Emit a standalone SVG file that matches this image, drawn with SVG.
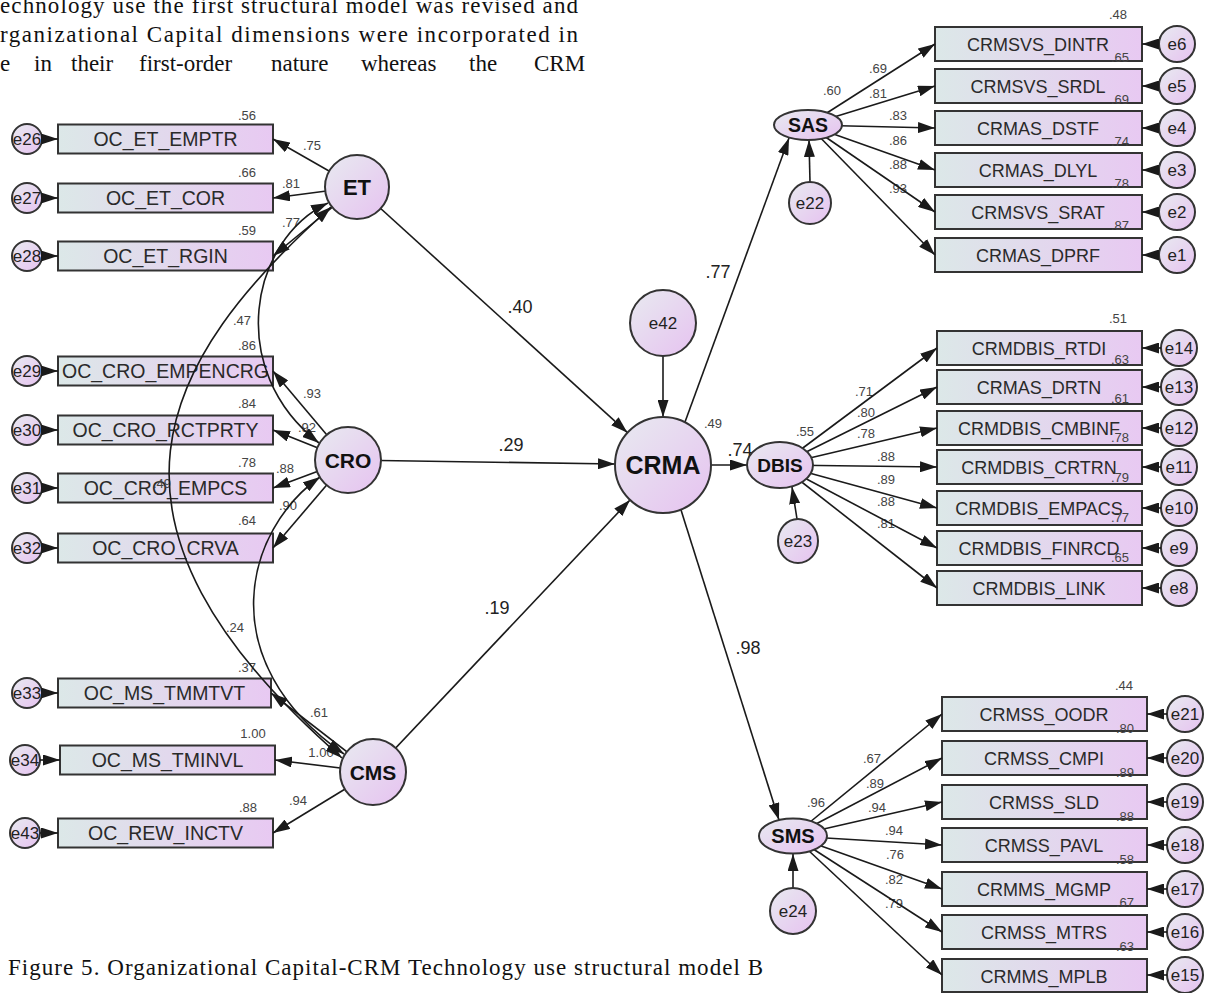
<svg xmlns="http://www.w3.org/2000/svg" width="1205" height="993" viewBox="0 0 1205 993">
<defs>
<linearGradient id="gBox" x1="0" y1="0" x2="1" y2="0"><stop offset="0" stop-color="#dce8e8"/><stop offset="1" stop-color="#e8c9f2"/></linearGradient>
<linearGradient id="gCirc" x1="0" y1="0" x2="1" y2="1"><stop offset="0" stop-color="#e8eaf0"/><stop offset="1" stop-color="#e6c2f0"/></linearGradient>
<marker id="ah" viewBox="0 0 17 11" refX="17" refY="5.5" markerWidth="17" markerHeight="11" markerUnits="userSpaceOnUse" orient="auto-start-reverse"><path d="M0,0 L17,5.5 L0,11 z" fill="#1a1a1a"/></marker>
<style>
.bx{fill:url(#gBox);stroke:#333;stroke-width:2}
.ci{fill:url(#gCirc);stroke:#333;stroke-width:2}
.bt{font-family:"Liberation Sans",Arial,sans-serif;font-size:19.5px;fill:#2a2a2a;text-anchor:middle}
.rt{font-family:"Liberation Sans",Arial,sans-serif;font-size:18px;fill:#2a2a2a;text-anchor:middle}
.et{font-family:"Liberation Sans",Arial,sans-serif;font-size:17px;fill:#222;text-anchor:middle}
.lt{font-family:"Liberation Sans",Arial,sans-serif;font-weight:bold;fill:#111;text-anchor:middle}
.sm{font-family:"Liberation Sans",Arial,sans-serif;font-size:13px;fill:#444;text-anchor:middle}
.bg{font-family:"Liberation Sans",Arial,sans-serif;font-size:18px;fill:#222;text-anchor:middle}
.ln{fill:none;stroke:#1a1a1a;stroke-width:1.6;marker-end:url(#ah)}
.dl{fill:none;stroke:#1a1a1a;stroke-width:1.6;marker-start:url(#ah);marker-end:url(#ah)}
.doc{font-family:"Liberation Serif","Times New Roman",serif;font-size:23px;fill:#111}
</style>
</defs>
<rect width="1205" height="993" fill="#ffffff"/>

<g id="page-text">
<text class="doc" x="0" y="13" textLength="578" lengthAdjust="spacing">echnology use the first structural model was revised and</text>
<text class="doc" x="0" y="42" textLength="578" lengthAdjust="spacing">rganizational Capital dimensions were incorporated in</text>
<text class="doc" y="71"><tspan x="0">e</tspan><tspan x="34">in</tspan><tspan x="71">their</tspan><tspan x="139">first-order</tspan><tspan x="271">nature</tspan><tspan x="361">whereas</tspan><tspan x="469">the</tspan><tspan x="534">CRM</tspan></text>
<text class="doc" x="8" y="975" font-size="24" textLength="755" lengthAdjust="spacing">Figure 5. Organizational Capital-CRM Technology use structural model B</text>
</g>

<!-- left indicators -->
<g id="OC_ET_EMPTR"><rect class="bx" x="58" y="124.5" width="215" height="29"/><text class="bt" x="165.5" y="146">OC_ET_EMPTR</text></g>
<g id="OC_ET_COR"><rect class="bx" x="58" y="183.5" width="215" height="29"/><text class="bt" x="165.5" y="205">OC_ET_COR</text></g>
<g id="OC_ET_RGIN"><rect class="bx" x="58" y="241.5" width="215" height="29"/><text class="bt" x="165.5" y="263">OC_ET_RGIN</text></g>
<g id="OC_CRO_EMPENCRG"><rect class="bx" x="58" y="356.5" width="215" height="29"/><text class="bt" x="165.5" y="378">OC_CRO_EMPENCRG</text></g>
<g id="OC_CRO_RCTPRTY"><rect class="bx" x="58" y="415.5" width="215" height="29"/><text class="bt" x="165.5" y="437">OC_CRO_RCTPRTY</text></g>
<g id="OC_CRO_EMPCS"><rect class="bx" x="58" y="473.5" width="215" height="29"/><text class="bt" x="165.5" y="495">OC_CRO_EMPCS</text></g>
<g id="OC_CRO_CRVA"><rect class="bx" x="58" y="533.5" width="215" height="29"/><text class="bt" x="165.5" y="555">OC_CRO_CRVA</text></g>
<g id="OC_MS_TMMTVT"><rect class="bx" x="58" y="678.5" width="213" height="29"/><text class="bt" x="164.5" y="700">OC_MS_TMMTVT</text></g>
<g id="OC_MS_TMINVL"><rect class="bx" x="60" y="745.5" width="215" height="29"/><text class="bt" x="167.5" y="767">OC_MS_TMINVL</text></g>
<g id="OC_REW_INCTV"><rect class="bx" x="58" y="818.5" width="215" height="29"/><text class="bt" x="165.5" y="840">OC_REW_INCTV</text></g>

<g id="e26"><circle class="ci" cx="27" cy="139" r="15"/><text class="et" x="27" y="145">e26</text></g>
<g id="e27"><circle class="ci" cx="27" cy="198" r="15"/><text class="et" x="27" y="204">e27</text></g>
<g id="e28"><circle class="ci" cx="27" cy="256" r="15"/><text class="et" x="27" y="262">e28</text></g>
<g id="e29"><circle class="ci" cx="27" cy="371" r="15"/><text class="et" x="27" y="377">e29</text></g>
<g id="e30"><circle class="ci" cx="27" cy="430" r="15"/><text class="et" x="27" y="436">e30</text></g>
<g id="e31"><circle class="ci" cx="27" cy="488" r="15"/><text class="et" x="27" y="494">e31</text></g>
<g id="e32"><circle class="ci" cx="27" cy="548" r="15"/><text class="et" x="27" y="554">e32</text></g>
<g id="e33"><circle class="ci" cx="27" cy="693" r="15"/><text class="et" x="27" y="699">e33</text></g>
<g id="e34"><circle class="ci" cx="25" cy="760" r="15"/><text class="et" x="25" y="766">e34</text></g>
<g id="e43"><circle class="ci" cx="25" cy="833" r="15"/><text class="et" x="25" y="839">e43</text></g>

<!-- right indicators SAS -->
<g id="CRMSVS_DINTR"><rect class="bx" x="935" y="27" width="207" height="34"/><text class="rt" x="1038" y="50.5">CRMSVS_DINTR</text></g>
<g id="CRMSVS_SRDL"><rect class="bx" x="935" y="69" width="207" height="34"/><text class="rt" x="1038" y="92.5">CRMSVS_SRDL</text></g>
<g id="CRMAS_DSTF"><rect class="bx" x="935" y="111" width="207" height="34"/><text class="rt" x="1038" y="134.5">CRMAS_DSTF</text></g>
<g id="CRMAS_DLYL"><rect class="bx" x="935" y="153" width="207" height="34"/><text class="rt" x="1038" y="176.5">CRMAS_DLYL</text></g>
<g id="CRMSVS_SRAT"><rect class="bx" x="935" y="195" width="207" height="34"/><text class="rt" x="1038" y="218.5">CRMSVS_SRAT</text></g>
<g id="CRMAS_DPRF"><rect class="bx" x="935" y="238" width="207" height="34"/><text class="rt" x="1038" y="261.5">CRMAS_DPRF</text></g>
<g id="e6"><circle class="ci" cx="1177" cy="44" r="18"/><text class="et" x="1177" y="50">e6</text></g>
<g id="e5"><circle class="ci" cx="1177" cy="86" r="18"/><text class="et" x="1177" y="92">e5</text></g>
<g id="e4"><circle class="ci" cx="1177" cy="128" r="18"/><text class="et" x="1177" y="134">e4</text></g>
<g id="e3"><circle class="ci" cx="1177" cy="170" r="18"/><text class="et" x="1177" y="176">e3</text></g>
<g id="e2"><circle class="ci" cx="1177" cy="212" r="18"/><text class="et" x="1177" y="218">e2</text></g>
<g id="e1"><circle class="ci" cx="1177" cy="255" r="18"/><text class="et" x="1177" y="261">e1</text></g>

<!-- right indicators DBIS -->
<g id="CRMDBIS_RTDI"><rect class="bx" x="937" y="331" width="205" height="34"/><text class="rt" x="1039" y="354.5">CRMDBIS_RTDI</text></g>
<g id="CRMAS_DRTN"><rect class="bx" x="937" y="370" width="205" height="34"/><text class="rt" x="1039" y="393.5">CRMAS_DRTN</text></g>
<g id="CRMDBIS_CMBINF"><rect class="bx" x="937" y="411" width="205" height="34"/><text class="rt" x="1039" y="434.5">CRMDBIS_CMBINF</text></g>
<g id="CRMDBIS_CRTRN"><rect class="bx" x="937" y="450" width="205" height="34"/><text class="rt" x="1039" y="473.5">CRMDBIS_CRTRN</text></g>
<g id="CRMDBIS_EMPACS"><rect class="bx" x="937" y="491" width="205" height="34"/><text class="rt" x="1039" y="514.5">CRMDBIS_EMPACS</text></g>
<g id="CRMDBIS_FINRCD"><rect class="bx" x="937" y="531" width="205" height="34"/><text class="rt" x="1039" y="554.5">CRMDBIS_FINRCD</text></g>
<g id="CRMDBIS_LINK"><rect class="bx" x="937" y="571" width="205" height="34"/><text class="rt" x="1039" y="594.5">CRMDBIS_LINK</text></g>
<g id="e14"><circle class="ci" cx="1179" cy="348" r="18"/><text class="et" x="1179" y="354">e14</text></g>
<g id="e13"><circle class="ci" cx="1179" cy="387" r="18"/><text class="et" x="1179" y="393">e13</text></g>
<g id="e12"><circle class="ci" cx="1179" cy="428" r="18"/><text class="et" x="1179" y="434">e12</text></g>
<g id="e11"><circle class="ci" cx="1179" cy="467" r="18"/><text class="et" x="1179" y="473">e11</text></g>
<g id="e10"><circle class="ci" cx="1179" cy="508" r="18"/><text class="et" x="1179" y="514">e10</text></g>
<g id="e9"><circle class="ci" cx="1179" cy="548" r="18"/><text class="et" x="1179" y="554">e9</text></g>
<g id="e8"><circle class="ci" cx="1179" cy="588" r="18"/><text class="et" x="1179" y="594">e8</text></g>

<!-- right indicators SMS -->
<g id="CRMSS_OODR"><rect class="bx" x="942" y="697" width="205" height="34"/><text class="rt" x="1044" y="720.5">CRMSS_OODR</text></g>
<g id="CRMSS_CMPI"><rect class="bx" x="942" y="741" width="205" height="34"/><text class="rt" x="1044" y="764.5">CRMSS_CMPI</text></g>
<g id="CRMSS_SLD"><rect class="bx" x="942" y="785" width="205" height="34"/><text class="rt" x="1044" y="808.5">CRMSS_SLD</text></g>
<g id="CRMSS_PAVL"><rect class="bx" x="942" y="828" width="205" height="34"/><text class="rt" x="1044" y="851.5">CRMSS_PAVL</text></g>
<g id="CRMMS_MGMP"><rect class="bx" x="942" y="872" width="205" height="34"/><text class="rt" x="1044" y="895.5">CRMMS_MGMP</text></g>
<g id="CRMSS_MTRS"><rect class="bx" x="942" y="915" width="205" height="34"/><text class="rt" x="1044" y="938.5">CRMSS_MTRS</text></g>
<g id="CRMMS_MPLB"><rect class="bx" x="942" y="959" width="205" height="33"/><text class="rt" x="1044" y="982.5">CRMMS_MPLB</text></g>
<g id="e21"><circle class="ci" cx="1185" cy="714" r="18"/><text class="et" x="1185" y="720">e21</text></g>
<g id="e20"><circle class="ci" cx="1185" cy="758" r="18"/><text class="et" x="1185" y="764">e20</text></g>
<g id="e19"><circle class="ci" cx="1185" cy="802" r="18"/><text class="et" x="1185" y="808">e19</text></g>
<g id="e18"><circle class="ci" cx="1185" cy="845" r="18"/><text class="et" x="1185" y="851">e18</text></g>
<g id="e17"><circle class="ci" cx="1185" cy="889" r="18"/><text class="et" x="1185" y="895">e17</text></g>
<g id="e16"><circle class="ci" cx="1185" cy="932" r="18"/><text class="et" x="1185" y="938">e16</text></g>
<g id="e15"><circle class="ci" cx="1185" cy="975" r="18"/><text class="et" x="1185" y="981">e15</text></g>

<!-- labels -->
<g id="labels">
<text class="sm" x="247" y="120">.56</text><text class="sm" x="312" y="150">.75</text>
<text class="sm" x="247" y="177">.66</text><text class="sm" x="291" y="188">.81</text>
<text class="sm" x="247" y="235">.59</text><text class="sm" x="291" y="227">.77</text>
<text class="sm" x="242" y="325">.47</text><text class="sm" x="247" y="350">.86</text>
<text class="sm" x="312" y="398">.93</text><text class="sm" x="247" y="408">.84</text>
<text class="sm" x="307" y="432">.92</text><text class="sm" x="247" y="467">.78</text>
<text class="sm" x="285" y="473">.88</text><text class="sm" x="162" y="488">.49</text>
<text class="sm" x="288" y="510">.90</text><text class="sm" x="247" y="525">.64</text>
<text class="sm" x="235" y="632">.24</text><text class="sm" x="247" y="672">.37</text>
<text class="sm" x="319" y="717">.61</text><text class="sm" x="253" y="738">1.00</text>
<text class="sm" x="321" y="757">1.00</text><text class="sm" x="298" y="805">.94</text>
<text class="sm" x="248" y="812">.88</text>

<text class="sm" x="1118" y="19">.48</text><text class="sm" x="1120" y="62">.65</text>
<text class="sm" x="1120" y="104">.69</text><text class="sm" x="1120" y="146">.74</text>
<text class="sm" x="1120" y="188">.78</text><text class="sm" x="1120" y="230">.87</text>
<text class="sm" x="832" y="95">.60</text><text class="sm" x="878" y="73">.69</text>
<text class="sm" x="878" y="98">.81</text><text class="sm" x="898" y="120">.83</text>
<text class="sm" x="898" y="145">.86</text><text class="sm" x="898" y="169">.88</text>
<text class="sm" x="898" y="193">.93</text>

<text class="sm" x="1118" y="323">.51</text><text class="sm" x="1120" y="364">.63</text>
<text class="sm" x="1120" y="403">.61</text><text class="sm" x="1120" y="442">.78</text>
<text class="sm" x="1120" y="482">.79</text><text class="sm" x="1120" y="522">.77</text>
<text class="sm" x="1120" y="562">.65</text>
<text class="sm" x="805" y="436">.55</text><text class="sm" x="864" y="396">.71</text>
<text class="sm" x="866" y="417">.80</text><text class="sm" x="866" y="438">.78</text>
<text class="sm" x="886" y="461">.88</text><text class="sm" x="886" y="484">.89</text>
<text class="sm" x="886" y="506">.88</text><text class="sm" x="886" y="528">.81</text>

<text class="sm" x="1124" y="690">.44</text><text class="sm" x="1125" y="733">.80</text>
<text class="sm" x="1125" y="777">.89</text><text class="sm" x="1125" y="821">.88</text>
<text class="sm" x="1125" y="864">.58</text><text class="sm" x="1125" y="907">.67</text>
<text class="sm" x="1125" y="951">.63</text>
<text class="sm" x="816" y="807">.96</text><text class="sm" x="872" y="763">.67</text>
<text class="sm" x="875" y="788">.89</text><text class="sm" x="877" y="812">.94</text>
<text class="sm" x="894" y="835">.94</text><text class="sm" x="895" y="859">.76</text>
<text class="sm" x="894" y="884">.82</text><text class="sm" x="894" y="908">.79</text>

<text class="sm" x="713" y="428">.49</text>
<text class="bg" x="520" y="313">.40</text><text class="bg" x="511" y="451">.29</text>
<text class="bg" x="497" y="614">.19</text><text class="bg" x="718" y="278">.77</text>
<text class="bg" x="740" y="456">.74</text><text class="bg" x="748" y="654">.98</text>
</g>

<!-- connectors -->
<g id="connectors">
<path class="ln" d="M42,139 L58,139"/><path class="ln" d="M42,198 L58,198"/><path class="ln" d="M42,256 L58,256"/>
<path class="ln" d="M42,371 L58,371"/><path class="ln" d="M42,430 L58,430"/><path class="ln" d="M42,488 L58,488"/>
<path class="ln" d="M42,548 L58,548"/><path class="ln" d="M42,693 L58,693"/><path class="ln" d="M40,760 L60,760"/>
<path class="ln" d="M40,833 L58,833"/>
<path class="ln" d="M357,187 L273,139"/><path class="ln" d="M357,187 L273,198"/><path class="ln" d="M357,187 L273,256"/>
<path class="ln" d="M348,460 L273,371"/><path class="ln" d="M348,460 L273,430"/><path class="ln" d="M348,460 L273,488"/><path class="ln" d="M348,460 L273,548"/>
<path class="ln" d="M373,772 L271,693"/><path class="ln" d="M373,772 L275,760"/><path class="ln" d="M373,772 L273,833"/>
<path class="dl" d="M328,203 C250,240 225,370 319,443"/>
<path class="dl" d="M331,207 C160,360 70,520 342,758"/>
<path class="dl" d="M320,477 C245,530 210,660 344,754"/>
<path class="ln" d="M357,187 L627.5,432.7"/>
<path class="ln" d="M348,460 L615,464"/>
<path class="ln" d="M373,772 L630,500"/>
<path class="ln" d="M663,356 L663,417"/>
<path class="ln" d="M685,422 L789,138"/>
<path class="ln" d="M711,465 L747,465"/>
<path class="ln" d="M681,510 L779,820"/>
<path class="ln" d="M810,182 L809,140"/>
<path class="ln" d="M797,519 L792,487"/>
<path class="ln" d="M793,888 L793,854"/>
<path class="ln" d="M808,125 L935,44"/><path class="ln" d="M808,125 L935,86"/><path class="ln" d="M808,125 L935,128"/>
<path class="ln" d="M808,125 L935,170"/><path class="ln" d="M808,125 L935,212"/><path class="ln" d="M808,125 L935,255"/>
<path class="ln" d="M780,465 L937,348"/><path class="ln" d="M780,465 L937,387"/><path class="ln" d="M780,465 L937,428"/>
<path class="ln" d="M780,465 L937,467"/><path class="ln" d="M780,465 L937,508"/><path class="ln" d="M780,465 L937,548"/>
<path class="ln" d="M780,465 L937,588"/>
<path class="ln" d="M793,836 L942,714"/><path class="ln" d="M793,836 L942,758"/><path class="ln" d="M793,836 L942,802"/>
<path class="ln" d="M793,836 L942,845"/><path class="ln" d="M793,836 L942,889"/><path class="ln" d="M793,836 L942,932"/>
<path class="ln" d="M793,836 L942,975"/>
<path class="ln" d="M1159,44 L1142,44"/><path class="ln" d="M1159,86 L1142,86"/><path class="ln" d="M1159,128 L1142,128"/>
<path class="ln" d="M1159,170 L1142,170"/><path class="ln" d="M1159,212 L1142,212"/><path class="ln" d="M1159,255 L1142,255"/>
<path class="ln" d="M1161,348 L1142,348"/><path class="ln" d="M1161,387 L1142,387"/><path class="ln" d="M1161,428 L1142,428"/>
<path class="ln" d="M1161,467 L1142,467"/><path class="ln" d="M1161,508 L1142,508"/><path class="ln" d="M1161,548 L1142,548"/>
<path class="ln" d="M1161,588 L1142,588"/>
<path class="ln" d="M1167,714 L1147,714"/><path class="ln" d="M1167,758 L1147,758"/><path class="ln" d="M1167,802 L1147,802"/>
<path class="ln" d="M1167,845 L1147,845"/><path class="ln" d="M1167,889 L1147,889"/><path class="ln" d="M1167,932 L1147,932"/>
<path class="ln" d="M1167,975 L1147,975"/>
</g>

<!-- latent nodes -->
<g id="ET"><circle class="ci" cx="357" cy="187" r="32"/><text class="lt" x="357" y="195" font-size="22">ET</text></g>
<g id="CRO"><circle class="ci" cx="348" cy="460" r="33"/><text class="lt" x="348" y="467.5" font-size="21">CRO</text></g>
<g id="CMS"><circle class="ci" cx="373" cy="772" r="33"/><text class="lt" x="373" y="779.5" font-size="21">CMS</text></g>
<g id="CRMA"><circle class="ci" cx="663" cy="465" r="48"/><text class="lt" x="663" y="474" font-size="25">CRMA</text></g>
<g id="e42"><circle class="ci" cx="663" cy="323" r="33"/><text class="et" x="663" y="329">e42</text></g>
<g id="SAS"><ellipse class="ci" cx="808" cy="125" rx="34" ry="15"/><text class="lt" x="808" y="132" font-size="19.5">SAS</text></g>
<g id="e22"><circle class="ci" cx="810" cy="203" r="21"/><text class="et" x="810" y="209">e22</text></g>
<g id="DBIS"><ellipse class="ci" cx="780" cy="465" rx="33" ry="23"/><text class="lt" x="780" y="472" font-size="19">DBIS</text></g>
<g id="e23"><ellipse class="ci" cx="798" cy="541" rx="20" ry="22"/><text class="et" x="798" y="547">e23</text></g>
<g id="SMS"><ellipse class="ci" cx="793" cy="836" rx="34" ry="17.5"/><text class="lt" x="793" y="843" font-size="20">SMS</text></g>
<g id="e24"><circle class="ci" cx="793" cy="911" r="23"/><text class="et" x="793" y="917">e24</text></g>
</svg>
